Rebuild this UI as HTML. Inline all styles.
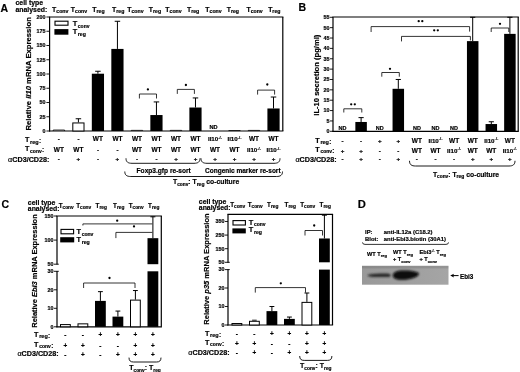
<!DOCTYPE html>
<html><head><meta charset="utf-8"><style>
html,body{margin:0;padding:0;background:#fff;}
svg text{stroke:#000;stroke-width:0.18px;}
svg{display:block;will-change:transform;font-family:"Liberation Sans",sans-serif;font-weight:bold;}
</style></head><body>
<svg width="520" height="372" viewBox="0 0 520 372">
<rect width="520" height="372" fill="#fff"/>
<text x="0.50" y="11.60" font-size="10.5" text-anchor="start" >A</text>
<text x="15.50" y="5.40" font-size="6.9" text-anchor="start" >cell type</text>
<text x="15.50" y="11.80" font-size="6.9" text-anchor="start" >analysed:</text>
<text x="60.25" y="11.90" font-size="6.9" text-anchor="middle">T<tspan font-size="5.2" dy="1.3">conv</tspan></text>
<text x="79.00" y="11.90" font-size="6.9" text-anchor="middle">T<tspan font-size="5.2" dy="1.3">conv</tspan></text>
<text x="98.50" y="11.90" font-size="6.9" text-anchor="middle">T<tspan font-size="5.2" dy="1.3">reg</tspan></text>
<text x="118.25" y="11.90" font-size="6.9" text-anchor="middle">T<tspan font-size="5.2" dy="1.3">reg</tspan></text>
<text x="135.40" y="11.90" font-size="6.9" text-anchor="middle">T<tspan font-size="5.2" dy="1.3">conv</tspan></text>
<text x="155.00" y="11.90" font-size="6.9" text-anchor="middle">T<tspan font-size="5.2" dy="1.3">reg</tspan></text>
<text x="173.50" y="11.90" font-size="6.9" text-anchor="middle">T<tspan font-size="5.2" dy="1.3">conv</tspan></text>
<text x="193.10" y="11.90" font-size="6.9" text-anchor="middle">T<tspan font-size="5.2" dy="1.3">reg</tspan></text>
<text x="213.50" y="11.90" font-size="6.9" text-anchor="middle">T<tspan font-size="5.2" dy="1.3">conv</tspan></text>
<text x="232.90" y="11.90" font-size="6.9" text-anchor="middle">T<tspan font-size="5.2" dy="1.3">reg</tspan></text>
<text x="254.60" y="11.90" font-size="6.9" text-anchor="middle">T<tspan font-size="5.2" dy="1.3">conv</tspan></text>
<text x="274.30" y="11.90" font-size="6.9" text-anchor="middle">T<tspan font-size="5.2" dy="1.3">reg</tspan></text>
<line x1="49.60" y1="17.00" x2="49.60" y2="131.50" stroke="#000" stroke-width="1.2"/>
<line x1="49.00" y1="17.00" x2="283.40" y2="17.00" stroke="#000" stroke-width="1.2"/>
<line x1="282.80" y1="17.00" x2="282.80" y2="131.00" stroke="#000" stroke-width="1.2"/>
<line x1="49.00" y1="131.00" x2="283.40" y2="131.00" stroke="#000" stroke-width="1.2"/>
<line x1="46.40" y1="131.00" x2="49.60" y2="131.00" stroke="#000" stroke-width="0.9"/>
<text x="45.60" y="132.90" font-size="5.4" text-anchor="end" >0</text>
<line x1="46.40" y1="116.75" x2="49.60" y2="116.75" stroke="#000" stroke-width="0.9"/>
<text x="45.60" y="118.65" font-size="5.4" text-anchor="end" >25</text>
<line x1="46.40" y1="102.50" x2="49.60" y2="102.50" stroke="#000" stroke-width="0.9"/>
<text x="45.60" y="104.40" font-size="5.4" text-anchor="end" >50</text>
<line x1="46.40" y1="88.25" x2="49.60" y2="88.25" stroke="#000" stroke-width="0.9"/>
<text x="45.60" y="90.15" font-size="5.4" text-anchor="end" >75</text>
<line x1="46.40" y1="74.00" x2="49.60" y2="74.00" stroke="#000" stroke-width="0.9"/>
<text x="45.60" y="75.90" font-size="5.4" text-anchor="end" >100</text>
<line x1="46.40" y1="59.75" x2="49.60" y2="59.75" stroke="#000" stroke-width="0.9"/>
<text x="45.60" y="61.65" font-size="5.4" text-anchor="end" >125</text>
<line x1="46.40" y1="45.50" x2="49.60" y2="45.50" stroke="#000" stroke-width="0.9"/>
<text x="45.60" y="47.40" font-size="5.4" text-anchor="end" >150</text>
<line x1="46.40" y1="31.25" x2="49.60" y2="31.25" stroke="#000" stroke-width="0.9"/>
<text x="45.60" y="33.15" font-size="5.4" text-anchor="end" >175</text>
<line x1="46.40" y1="17.00" x2="49.60" y2="17.00" stroke="#000" stroke-width="0.9"/>
<text x="45.60" y="18.90" font-size="5.4" text-anchor="end" >200</text>
<text x="0" y="0" font-size="7.7" text-anchor="middle" transform="translate(31.00,73.80) rotate(-90)">Relative <tspan font-style="italic">Il10</tspan> mRNA Expression</text>
<rect x="55.00" y="21.20" width="13.00" height="4.00" fill="#fff" stroke="#000" stroke-width="1.1"/>
<rect x="54.40" y="29.10" width="14.00" height="5.60" fill="#000" stroke="none" stroke-width="1.0"/>
<text x="72.80" y="26.30" font-size="7.4" text-anchor="start">T<tspan font-size="5.0" dy="1.6" dx="0.5">conv</tspan></text>
<text x="72.80" y="34.40" font-size="7.4" text-anchor="start">T<tspan font-size="5.2" dy="1.8" dx="0.5">reg</tspan></text>
<path d="M53.20,131.00 L53.20,130.02 L64.60,130.02 L64.60,131.00" stroke="#000" stroke-width="0.8" fill="none"/>
<line x1="78.41" y1="122.45" x2="78.41" y2="118.75" stroke="#000" stroke-width="1.0"/>
<line x1="75.66" y1="118.75" x2="81.16" y2="118.75" stroke="#000" stroke-width="1.0"/>
<rect x="72.81" y="122.95" width="11.20" height="8.05" fill="#fff" stroke="#000" stroke-width="1.0"/>
<line x1="97.92" y1="73.72" x2="97.92" y2="71.26" stroke="#000" stroke-width="1.0"/>
<line x1="95.17" y1="71.26" x2="100.67" y2="71.26" stroke="#000" stroke-width="1.0"/>
<rect x="91.82" y="73.72" width="12.20" height="57.28" fill="#000" stroke="none" stroke-width="0"/>
<line x1="117.43" y1="48.92" x2="117.43" y2="21.28" stroke="#000" stroke-width="1.0"/>
<line x1="114.69" y1="21.28" x2="120.18" y2="21.28" stroke="#000" stroke-width="1.0"/>
<rect x="111.33" y="48.92" width="12.20" height="82.08" fill="#000" stroke="none" stroke-width="0"/>
<path d="M131.24,131.00 L131.24,130.36 L142.64,130.36 L142.64,131.00" stroke="#000" stroke-width="0.8" fill="none"/>
<line x1="156.45" y1="115.04" x2="156.45" y2="101.93" stroke="#000" stroke-width="1.0"/>
<line x1="153.71" y1="101.93" x2="159.20" y2="101.93" stroke="#000" stroke-width="1.0"/>
<rect x="150.35" y="115.04" width="12.20" height="15.96" fill="#000" stroke="none" stroke-width="0"/>
<path d="M170.26,131.00 L170.26,130.36 L181.66,130.36 L181.66,131.00" stroke="#000" stroke-width="0.8" fill="none"/>
<line x1="195.47" y1="107.52" x2="195.47" y2="97.94" stroke="#000" stroke-width="1.0"/>
<line x1="192.73" y1="97.94" x2="198.22" y2="97.94" stroke="#000" stroke-width="1.0"/>
<rect x="189.37" y="107.52" width="12.20" height="23.48" fill="#000" stroke="none" stroke-width="0"/>
<path d="M228.79,131.00 L228.79,130.53 L240.19,130.53 L240.19,131.00" stroke="#000" stroke-width="0.8" fill="none"/>
<path d="M248.30,131.00 L248.30,130.41 L259.70,130.41 L259.70,131.00" stroke="#000" stroke-width="0.8" fill="none"/>
<line x1="273.51" y1="108.48" x2="273.51" y2="97.03" stroke="#000" stroke-width="1.0"/>
<line x1="270.76" y1="97.03" x2="276.25" y2="97.03" stroke="#000" stroke-width="1.0"/>
<rect x="267.41" y="108.48" width="12.20" height="22.52" fill="#000" stroke="none" stroke-width="0"/>
<text x="213.48" y="129.10" font-size="5.6" text-anchor="middle" >ND</text>
<path d="M139.40,98.50 L139.40,94.00 L156.50,94.00 L156.50,98.50" stroke="#000" stroke-width="0.8" fill="none"/>
<circle cx="147.90" cy="89.40" r="1.15" fill="#000"/>
<path d="M177.30,93.90 L177.30,89.40 L194.40,89.40 L194.40,93.90" stroke="#000" stroke-width="0.8" fill="none"/>
<circle cx="185.90" cy="85.00" r="1.15" fill="#000"/>
<path d="M257.60,94.60 L257.60,90.10 L274.60,90.10 L274.60,94.60" stroke="#000" stroke-width="0.8" fill="none"/>
<circle cx="267.30" cy="84.50" r="1.15" fill="#000"/>
<text x="24.90" y="142.00" font-size="7.2" text-anchor="start">T<tspan font-size="5.5" dy="1.6" dx="0.8">reg</tspan><tspan dy="-0.5" dx="0.3" font-size="6.48">:</tspan></text>
<text x="24.90" y="150.90" font-size="7.2" text-anchor="start">T<tspan font-size="5.0" dy="1.6" dx="0.8">conv</tspan><tspan dy="-0.5" dx="0.3" font-size="6.48">:</tspan></text>
<text x="8.10" y="162.10" font-size="7.2" text-anchor="start" ><tspan font-weight="normal">α</tspan>CD3/CD28:</text>
<text x="58.90" y="141.20" font-size="6.2" text-anchor="middle" >-</text>
<text x="78.41" y="141.20" font-size="6.2" text-anchor="middle" >-</text>
<text x="97.92" y="141.20" font-size="6.5" text-anchor="middle" >WT</text>
<text x="117.43" y="141.20" font-size="6.5" text-anchor="middle" >WT</text>
<text x="136.94" y="141.20" font-size="6.5" text-anchor="middle" >WT</text>
<text x="156.45" y="141.20" font-size="6.5" text-anchor="middle" >WT</text>
<text x="175.96" y="141.20" font-size="6.5" text-anchor="middle" >WT</text>
<text x="195.47" y="141.20" font-size="6.5" text-anchor="middle" >WT</text>
<text x="214.98" y="141.20" font-size="6.2" text-anchor="middle">Il10<tspan font-size="4.0" dy="-2.5">-/-</tspan></text>
<text x="234.49" y="141.20" font-size="6.2" text-anchor="middle">Il10<tspan font-size="4.0" dy="-2.5">-/-</tspan></text>
<text x="254.00" y="141.20" font-size="6.5" text-anchor="middle" >WT</text>
<text x="273.51" y="141.20" font-size="6.5" text-anchor="middle" >WT</text>
<text x="58.90" y="152.40" font-size="6.5" text-anchor="middle" >WT</text>
<text x="78.41" y="152.40" font-size="6.5" text-anchor="middle" >WT</text>
<text x="97.92" y="152.40" font-size="6.2" text-anchor="middle" >-</text>
<text x="117.43" y="152.40" font-size="6.2" text-anchor="middle" >-</text>
<text x="136.94" y="152.40" font-size="6.5" text-anchor="middle" >WT</text>
<text x="156.45" y="152.40" font-size="6.5" text-anchor="middle" >WT</text>
<text x="175.96" y="152.40" font-size="6.5" text-anchor="middle" >WT</text>
<text x="195.47" y="152.40" font-size="6.5" text-anchor="middle" >WT</text>
<text x="214.98" y="152.40" font-size="6.5" text-anchor="middle" >WT</text>
<text x="234.49" y="152.40" font-size="6.5" text-anchor="middle" >WT</text>
<text x="254.00" y="152.40" font-size="6.2" text-anchor="middle">Il10<tspan font-size="4.0" dy="-2.5">-/-</tspan></text>
<text x="273.51" y="152.40" font-size="6.2" text-anchor="middle">Il10<tspan font-size="4.0" dy="-2.5">-/-</tspan></text>
<text x="58.90" y="160.60" font-size="6.2" text-anchor="middle" >-</text>
<text x="78.41" y="160.60" font-size="6.2" text-anchor="middle" >+</text>
<text x="97.92" y="160.60" font-size="6.2" text-anchor="middle" >-</text>
<text x="117.43" y="160.60" font-size="6.2" text-anchor="middle" >+</text>
<text x="136.94" y="160.60" font-size="6.2" text-anchor="middle" >-</text>
<text x="156.45" y="160.60" font-size="6.2" text-anchor="middle" >-</text>
<text x="175.96" y="160.60" font-size="6.2" text-anchor="middle" >+</text>
<text x="195.47" y="160.60" font-size="6.2" text-anchor="middle" >+</text>
<text x="214.98" y="160.60" font-size="6.2" text-anchor="middle" >+</text>
<text x="234.49" y="160.60" font-size="6.2" text-anchor="middle" >+</text>
<text x="254.00" y="160.60" font-size="6.2" text-anchor="middle" >+</text>
<text x="273.51" y="160.60" font-size="6.2" text-anchor="middle" >+</text>
<path d="M126.00,158.30 C126.00,162.05 128.10,163.30 132.00,163.30 L194.00,163.30 C197.90,163.30 200.00,162.05 200.00,158.30" stroke="#000" stroke-width="0.9" fill="none"/>
<path d="M201.00,158.30 C201.00,162.05 203.10,163.30 207.00,163.30 L274.00,163.30 C277.90,163.30 280.00,162.05 280.00,158.30" stroke="#000" stroke-width="0.9" fill="none"/>
<text x="163.70" y="173.40" font-size="6.6" text-anchor="middle" >Foxp3.gfp re-sort</text>
<text x="242.80" y="173.40" font-size="6.5" text-anchor="middle" >Congenic marker re-sort</text>
<path d="M124.80,171.50 C124.80,175.25 126.90,176.50 130.80,176.50 L276.50,176.50 C280.40,176.50 282.50,175.25 282.50,171.50" stroke="#000" stroke-width="0.9" fill="none"/>
<text x="173.0" y="184.0" font-size="6.8">T<tspan font-size="4.8" dy="1.5">conv</tspan><tspan dy="-1.6">: T</tspan><tspan font-size="5.0" dy="1.6">reg</tspan><tspan dy="-1.6"> co-culture</tspan></text>
<text x="298.60" y="11.40" font-size="10.5" text-anchor="start" >B</text>
<line x1="333.00" y1="17.00" x2="333.00" y2="131.80" stroke="#000" stroke-width="1.2"/>
<line x1="332.40" y1="17.00" x2="518.80" y2="17.00" stroke="#000" stroke-width="1.2"/>
<line x1="518.20" y1="17.00" x2="518.20" y2="131.30" stroke="#000" stroke-width="1.2"/>
<line x1="332.40" y1="131.30" x2="518.80" y2="131.30" stroke="#000" stroke-width="1.2"/>
<line x1="330.00" y1="131.30" x2="333.00" y2="131.30" stroke="#000" stroke-width="0.9"/>
<text x="329.60" y="133.20" font-size="5.4" text-anchor="end" >0</text>
<line x1="330.00" y1="120.94" x2="333.00" y2="120.94" stroke="#000" stroke-width="0.9"/>
<text x="329.60" y="122.84" font-size="5.4" text-anchor="end" >5</text>
<line x1="330.00" y1="110.57" x2="333.00" y2="110.57" stroke="#000" stroke-width="0.9"/>
<text x="329.60" y="112.47" font-size="5.4" text-anchor="end" >10</text>
<line x1="330.00" y1="100.21" x2="333.00" y2="100.21" stroke="#000" stroke-width="0.9"/>
<text x="329.60" y="102.11" font-size="5.4" text-anchor="end" >15</text>
<line x1="330.00" y1="89.84" x2="333.00" y2="89.84" stroke="#000" stroke-width="0.9"/>
<text x="329.60" y="91.74" font-size="5.4" text-anchor="end" >20</text>
<line x1="330.00" y1="79.48" x2="333.00" y2="79.48" stroke="#000" stroke-width="0.9"/>
<text x="329.60" y="81.38" font-size="5.4" text-anchor="end" >25</text>
<line x1="330.00" y1="69.11" x2="333.00" y2="69.11" stroke="#000" stroke-width="0.9"/>
<text x="329.60" y="71.01" font-size="5.4" text-anchor="end" >30</text>
<line x1="330.00" y1="58.75" x2="333.00" y2="58.75" stroke="#000" stroke-width="0.9"/>
<text x="329.60" y="60.65" font-size="5.4" text-anchor="end" >35</text>
<line x1="330.00" y1="48.38" x2="333.00" y2="48.38" stroke="#000" stroke-width="0.9"/>
<text x="329.60" y="50.28" font-size="5.4" text-anchor="end" >40</text>
<line x1="330.00" y1="38.02" x2="333.00" y2="38.02" stroke="#000" stroke-width="0.9"/>
<text x="329.60" y="39.92" font-size="5.4" text-anchor="end" >45</text>
<line x1="330.00" y1="27.65" x2="333.00" y2="27.65" stroke="#000" stroke-width="0.9"/>
<text x="329.60" y="29.55" font-size="5.4" text-anchor="end" >50</text>
<line x1="330.00" y1="17.29" x2="333.00" y2="17.29" stroke="#000" stroke-width="0.9"/>
<text x="329.60" y="19.19" font-size="5.4" text-anchor="end" >55</text>
<text x="0" y="0" font-size="7.6" text-anchor="middle" transform="translate(319.40,75.20) rotate(-90)">IL-10 secretion (pg/ml)</text>
<text x="342.50" y="129.80" font-size="5.5" text-anchor="middle" >ND</text>
<line x1="361.10" y1="121.97" x2="361.10" y2="117.62" stroke="#000" stroke-width="1.0"/>
<line x1="358.51" y1="117.62" x2="363.69" y2="117.62" stroke="#000" stroke-width="1.0"/>
<rect x="355.35" y="121.97" width="11.50" height="9.33" fill="#000" stroke="none" stroke-width="0"/>
<text x="379.70" y="129.80" font-size="5.5" text-anchor="middle" >ND</text>
<line x1="398.30" y1="88.80" x2="398.30" y2="79.48" stroke="#000" stroke-width="1.0"/>
<line x1="395.71" y1="79.48" x2="400.89" y2="79.48" stroke="#000" stroke-width="1.0"/>
<rect x="392.55" y="88.80" width="11.50" height="42.50" fill="#000" stroke="none" stroke-width="0"/>
<text x="416.90" y="129.80" font-size="5.5" text-anchor="middle" >ND</text>
<text x="435.50" y="129.80" font-size="5.5" text-anchor="middle" >ND</text>
<text x="454.10" y="129.80" font-size="5.5" text-anchor="middle" >ND</text>
<line x1="472.70" y1="41.12" x2="472.70" y2="17.29" stroke="#000" stroke-width="1.0"/>
<line x1="470.11" y1="17.29" x2="475.29" y2="17.29" stroke="#000" stroke-width="1.0"/>
<rect x="466.95" y="41.12" width="11.50" height="90.18" fill="#000" stroke="none" stroke-width="0"/>
<line x1="491.30" y1="124.04" x2="491.30" y2="121.76" stroke="#000" stroke-width="1.0"/>
<line x1="488.71" y1="121.76" x2="493.89" y2="121.76" stroke="#000" stroke-width="1.0"/>
<rect x="485.55" y="124.04" width="11.50" height="7.26" fill="#000" stroke="none" stroke-width="0"/>
<line x1="509.90" y1="33.87" x2="509.90" y2="17.29" stroke="#000" stroke-width="1.0"/>
<line x1="507.31" y1="17.29" x2="512.49" y2="17.29" stroke="#000" stroke-width="1.0"/>
<rect x="504.15" y="33.87" width="11.50" height="97.43" fill="#000" stroke="none" stroke-width="0"/>
<path d="M343.80,112.50 L343.80,108.80 L361.80,108.80 L361.80,112.50" stroke="#000" stroke-width="0.8" fill="none"/>
<circle cx="351.20" cy="104.30" r="1.15" fill="#000"/>
<circle cx="354.80" cy="104.30" r="1.15" fill="#000"/>
<path d="M381.80,76.70 L381.80,72.50 L399.30,72.50 L399.30,76.70" stroke="#000" stroke-width="0.8" fill="none"/>
<circle cx="390.00" cy="68.80" r="1.15" fill="#000"/>
<path d="M371.10,32.00 L371.10,26.60 L469.60,26.60 L469.60,31.60" stroke="#000" stroke-width="0.8" fill="none"/>
<circle cx="418.70" cy="21.20" r="1.15" fill="#000"/>
<circle cx="422.30" cy="21.20" r="1.15" fill="#000"/>
<path d="M401.50,41.40 L401.50,36.40 L470.40,36.40 L470.40,40.40" stroke="#000" stroke-width="0.8" fill="none"/>
<circle cx="434.20" cy="30.30" r="1.15" fill="#000"/>
<circle cx="437.80" cy="30.30" r="1.15" fill="#000"/>
<path d="M491.20,32.00 L491.20,28.00 L508.80,28.00 L508.80,32.00" stroke="#000" stroke-width="0.8" fill="none"/>
<circle cx="500.00" cy="23.80" r="1.15" fill="#000"/>
<text x="315.20" y="142.60" font-size="7.2" text-anchor="start">T<tspan font-size="5.5" dy="1.6" dx="0.8">reg</tspan><tspan dy="-0.5" dx="0.3" font-size="6.48">:</tspan></text>
<text x="315.20" y="151.70" font-size="7.2" text-anchor="start">T<tspan font-size="5.0" dy="1.6" dx="0.8">conv</tspan><tspan dy="-0.5" dx="0.3" font-size="6.48">:</tspan></text>
<text x="295.40" y="162.40" font-size="7.2" text-anchor="start" ><tspan font-weight="normal">α</tspan>CD3/CD28:</text>
<text x="342.50" y="142.50" font-size="6.2" text-anchor="middle" >-</text>
<text x="361.10" y="142.50" font-size="6.2" text-anchor="middle" >-</text>
<text x="379.70" y="142.50" font-size="6.2" text-anchor="middle" >+</text>
<text x="398.30" y="142.50" font-size="6.2" text-anchor="middle" >+</text>
<text x="416.90" y="142.50" font-size="6.5" text-anchor="middle" >WT</text>
<text x="435.50" y="142.50" font-size="6.2" text-anchor="middle">Il10<tspan font-size="4.0" dy="-2.5">-/-</tspan></text>
<text x="454.10" y="142.50" font-size="6.5" text-anchor="middle" >WT</text>
<text x="472.70" y="142.50" font-size="6.5" text-anchor="middle" >WT</text>
<text x="491.30" y="142.50" font-size="6.2" text-anchor="middle">Il10<tspan font-size="4.0" dy="-2.5">-/-</tspan></text>
<text x="509.90" y="142.50" font-size="6.5" text-anchor="middle" >WT</text>
<text x="342.50" y="152.60" font-size="6.2" text-anchor="middle" >+</text>
<text x="361.10" y="152.60" font-size="6.2" text-anchor="middle" >+</text>
<text x="379.70" y="152.60" font-size="6.2" text-anchor="middle" >-</text>
<text x="398.30" y="152.60" font-size="6.2" text-anchor="middle" >-</text>
<text x="416.90" y="152.60" font-size="6.5" text-anchor="middle" >WT</text>
<text x="435.50" y="152.60" font-size="6.5" text-anchor="middle" >WT</text>
<text x="454.10" y="152.60" font-size="6.2" text-anchor="middle">Il10<tspan font-size="4.0" dy="-2.5">-/-</tspan></text>
<text x="472.70" y="152.60" font-size="6.5" text-anchor="middle" >WT</text>
<text x="491.30" y="152.60" font-size="6.5" text-anchor="middle" >WT</text>
<text x="509.90" y="152.60" font-size="6.2" text-anchor="middle">Il10<tspan font-size="4.0" dy="-2.5">-/-</tspan></text>
<text x="342.50" y="161.20" font-size="6.2" text-anchor="middle" >-</text>
<text x="361.10" y="161.20" font-size="6.2" text-anchor="middle" >+</text>
<text x="379.70" y="161.20" font-size="6.2" text-anchor="middle" >-</text>
<text x="398.30" y="161.20" font-size="6.2" text-anchor="middle" >+</text>
<text x="416.90" y="161.20" font-size="6.2" text-anchor="middle" >-</text>
<text x="435.50" y="161.20" font-size="6.2" text-anchor="middle" >-</text>
<text x="454.10" y="161.20" font-size="6.2" text-anchor="middle" >-</text>
<text x="472.70" y="161.20" font-size="6.2" text-anchor="middle" >+</text>
<text x="491.30" y="161.20" font-size="6.2" text-anchor="middle" >+</text>
<text x="509.90" y="161.20" font-size="6.2" text-anchor="middle" >+</text>
<path d="M409.50,160.80 C409.50,164.70 411.60,166.00 415.50,166.00 L509.00,166.00 C512.90,166.00 515.00,164.70 515.00,160.80" stroke="#000" stroke-width="0.9" fill="none"/>
<text x="466" y="176.6" font-size="6.8" text-anchor="middle">T<tspan font-size="4.8" dy="1.5">conv</tspan><tspan dy="-1.6">: T</tspan><tspan font-size="5.0" dy="1.6">reg</tspan><tspan dy="-1.6"> co-culture</tspan></text>
<text x="1.60" y="207.60" font-size="10.5" text-anchor="start" >C</text>
<text x="27.80" y="204.80" font-size="6.9" text-anchor="start" >cell type</text>
<text x="27.80" y="210.90" font-size="6.9" text-anchor="start" >analysed:</text>
<text x="66.20" y="207.50" font-size="6.3" text-anchor="middle">T<tspan font-size="4.8" dy="1.1">conv</tspan></text>
<text x="83.70" y="207.50" font-size="6.3" text-anchor="middle">T<tspan font-size="4.8" dy="1.1">conv</tspan></text>
<text x="101.20" y="207.50" font-size="6.3" text-anchor="middle">T<tspan font-size="4.8" dy="1.1">reg</tspan></text>
<text x="118.70" y="207.50" font-size="6.3" text-anchor="middle">T<tspan font-size="4.8" dy="1.1">reg</tspan></text>
<text x="136.20" y="207.50" font-size="6.3" text-anchor="middle">T<tspan font-size="4.8" dy="1.1">conv</tspan></text>
<text x="153.70" y="207.50" font-size="6.3" text-anchor="middle">T<tspan font-size="4.8" dy="1.1">reg</tspan></text>
<line x1="57.00" y1="216.00" x2="57.00" y2="264.60" stroke="#000" stroke-width="1.2"/>
<line x1="57.00" y1="270.90" x2="57.00" y2="327.30" stroke="#000" stroke-width="1.2"/>
<line x1="56.40" y1="216.00" x2="161.90" y2="216.00" stroke="#000" stroke-width="1.2"/>
<line x1="161.30" y1="216.00" x2="161.30" y2="326.80" stroke="#000" stroke-width="1.2"/>
<line x1="56.40" y1="326.80" x2="161.90" y2="326.80" stroke="#000" stroke-width="1.2"/>
<line x1="54.00" y1="264.20" x2="58.80" y2="264.20" stroke="#000" stroke-width="0.9"/>
<line x1="54.00" y1="271.30" x2="58.80" y2="271.30" stroke="#000" stroke-width="0.9"/>
<line x1="54.00" y1="326.80" x2="57.00" y2="326.80" stroke="#000" stroke-width="0.9"/>
<text x="53.60" y="328.70" font-size="5.4" text-anchor="end" >0</text>
<line x1="54.00" y1="308.30" x2="57.00" y2="308.30" stroke="#000" stroke-width="0.9"/>
<text x="53.60" y="310.20" font-size="5.4" text-anchor="end" >10</text>
<line x1="54.00" y1="289.80" x2="57.00" y2="289.80" stroke="#000" stroke-width="0.9"/>
<text x="53.60" y="291.70" font-size="5.4" text-anchor="end" >20</text>
<text x="53.60" y="273.20" font-size="5.4" text-anchor="end" >30</text>
<text x="53.60" y="266.10" font-size="5.4" text-anchor="end" >50</text>
<line x1="54.00" y1="240.10" x2="57.00" y2="240.10" stroke="#000" stroke-width="0.9"/>
<text x="53.60" y="242.00" font-size="5.4" text-anchor="end" >100</text>
<line x1="54.00" y1="216.00" x2="57.00" y2="216.00" stroke="#000" stroke-width="0.9"/>
<text x="53.60" y="217.90" font-size="5.4" text-anchor="end" >150</text>
<text x="0" y="0" font-size="7.48" text-anchor="middle" transform="translate(37.20,271.00) rotate(-90)">Relative <tspan font-style="italic">Ebi3</tspan> mRNA Expression</text>
<rect x="60.50" y="324.58" width="9.80" height="2.22" fill="#fff" stroke="#000" stroke-width="1.0"/>
<rect x="78.00" y="323.84" width="9.80" height="2.96" fill="#fff" stroke="#000" stroke-width="1.0"/>
<line x1="100.40" y1="300.90" x2="100.40" y2="291.65" stroke="#000" stroke-width="1.0"/>
<line x1="97.97" y1="291.65" x2="102.83" y2="291.65" stroke="#000" stroke-width="1.0"/>
<rect x="95.00" y="300.90" width="10.80" height="25.90" fill="#000" stroke="none" stroke-width="0"/>
<line x1="117.90" y1="316.62" x2="117.90" y2="311.07" stroke="#000" stroke-width="1.0"/>
<line x1="115.47" y1="311.07" x2="120.33" y2="311.07" stroke="#000" stroke-width="1.0"/>
<rect x="112.50" y="316.62" width="10.80" height="10.18" fill="#000" stroke="none" stroke-width="0"/>
<line x1="135.40" y1="299.61" x2="135.40" y2="290.54" stroke="#000" stroke-width="1.0"/>
<line x1="132.97" y1="290.54" x2="137.83" y2="290.54" stroke="#000" stroke-width="1.0"/>
<rect x="130.50" y="300.11" width="9.80" height="26.69" fill="#fff" stroke="#000" stroke-width="1.0"/>
<rect x="147.50" y="238.17" width="10.80" height="26.03" fill="#000" stroke="none" stroke-width="1.0"/>
<rect x="147.50" y="271.30" width="10.80" height="55.50" fill="#000" stroke="none" stroke-width="1.0"/>
<line x1="152.90" y1="238.17" x2="152.90" y2="216.60" stroke="#000" stroke-width="1.0"/>
<line x1="150.40" y1="216.80" x2="155.40" y2="216.80" stroke="#000" stroke-width="1.0"/>
<path d="M82.90,225.50 L82.90,223.90 L152.30,223.90 L152.30,223.90" stroke="#000" stroke-width="0.8" fill="none"/>
<circle cx="117.20" cy="220.70" r="1.15" fill="#000"/>
<path d="M115.90,238.10 L115.90,232.40 L152.30,232.40 L152.30,232.40" stroke="#000" stroke-width="0.8" fill="none"/>
<circle cx="134.00" cy="226.40" r="1.15" fill="#000"/>
<path d="M83.60,288.00 L83.60,283.00 L135.00,283.00 L135.00,288.00" stroke="#000" stroke-width="0.8" fill="none"/>
<circle cx="109.50" cy="278.00" r="1.15" fill="#000"/>
<text x="34.00" y="336.80" font-size="7.2" text-anchor="start">T<tspan font-size="5.5" dy="1.6" dx="0.8">reg</tspan><tspan dy="-0.5" dx="0.3" font-size="6.48">:</tspan></text>
<text x="34.00" y="346.50" font-size="7.2" text-anchor="start">T<tspan font-size="5.0" dy="1.6" dx="0.8">conv</tspan><tspan dy="-0.5" dx="0.3" font-size="6.48">:</tspan></text>
<text x="17.40" y="356.20" font-size="7.2" text-anchor="start" ><tspan font-weight="normal">α</tspan>CD3/CD28:</text>
<text x="65.40" y="337.10" font-size="6.4" text-anchor="middle" >-</text>
<text x="82.90" y="337.10" font-size="6.4" text-anchor="middle" >-</text>
<text x="100.40" y="337.10" font-size="6.4" text-anchor="middle" >+</text>
<text x="117.90" y="337.10" font-size="6.4" text-anchor="middle" >+</text>
<text x="135.40" y="337.10" font-size="6.4" text-anchor="middle" >+</text>
<text x="152.90" y="337.10" font-size="6.4" text-anchor="middle" >+</text>
<text x="65.40" y="347.50" font-size="6.4" text-anchor="middle" >+</text>
<text x="82.90" y="347.50" font-size="6.4" text-anchor="middle" >+</text>
<text x="100.40" y="347.50" font-size="6.4" text-anchor="middle" >-</text>
<text x="117.90" y="347.50" font-size="6.4" text-anchor="middle" >-</text>
<text x="135.40" y="347.50" font-size="6.4" text-anchor="middle" >+</text>
<text x="152.90" y="347.50" font-size="6.4" text-anchor="middle" >+</text>
<text x="65.40" y="356.50" font-size="6.4" text-anchor="middle" >-</text>
<text x="82.90" y="356.50" font-size="6.4" text-anchor="middle" >+</text>
<text x="100.40" y="356.50" font-size="6.4" text-anchor="middle" >-</text>
<text x="117.90" y="356.50" font-size="6.4" text-anchor="middle" >+</text>
<text x="135.40" y="356.50" font-size="6.4" text-anchor="middle" >+</text>
<text x="152.90" y="356.50" font-size="6.4" text-anchor="middle" >+</text>
<path d="M129.00,357.60 C129.00,360.90 130.57,362.00 133.50,362.00 L156.50,362.00 C159.43,362.00 161.00,360.90 161.00,357.60" stroke="#000" stroke-width="0.9" fill="none"/>
<text x="145.00" y="370.00" font-size="7.0" text-anchor="middle">T<tspan font-size="4.8" dy="1.6">conv</tspan><tspan dy="-1.6">: T</tspan><tspan font-size="4.8" dy="1.6">reg</tspan></text>
<rect x="61.00" y="229.40" width="12.60" height="4.40" fill="#fff" stroke="#000" stroke-width="1.1"/>
<rect x="60.20" y="237.20" width="14.00" height="5.20" fill="#000" stroke="none" stroke-width="1.0"/>
<text x="76.60" y="234.00" font-size="7.4" text-anchor="start">T<tspan font-size="5.0" dy="1.6" dx="0.6">conv</tspan></text>
<text x="76.60" y="242.00" font-size="7.4" text-anchor="start">T<tspan font-size="5.2" dy="1.8" dx="0.6">reg</tspan></text>
<text x="198.80" y="204.10" font-size="6.9" text-anchor="start" >cell type</text>
<text x="198.80" y="210.20" font-size="6.9" text-anchor="start" >analysed:</text>
<text x="237.70" y="206.80" font-size="6.3" text-anchor="middle">T<tspan font-size="4.8" dy="1.1">conv</tspan></text>
<text x="255.20" y="206.80" font-size="6.3" text-anchor="middle">T<tspan font-size="4.8" dy="1.1">conv</tspan></text>
<text x="272.70" y="206.80" font-size="6.3" text-anchor="middle">T<tspan font-size="4.8" dy="1.1">reg</tspan></text>
<text x="290.20" y="206.80" font-size="6.3" text-anchor="middle">T<tspan font-size="4.8" dy="1.1">reg</tspan></text>
<text x="307.70" y="206.80" font-size="6.3" text-anchor="middle">T<tspan font-size="4.8" dy="1.1">conv</tspan></text>
<text x="325.20" y="206.80" font-size="6.3" text-anchor="middle">T<tspan font-size="4.8" dy="1.1">reg</tspan></text>
<line x1="228.00" y1="214.40" x2="228.00" y2="262.70" stroke="#000" stroke-width="1.2"/>
<line x1="228.00" y1="269.20" x2="228.00" y2="325.50" stroke="#000" stroke-width="1.2"/>
<line x1="227.40" y1="214.40" x2="333.10" y2="214.40" stroke="#000" stroke-width="1.2"/>
<line x1="332.50" y1="214.40" x2="332.50" y2="325.00" stroke="#000" stroke-width="1.2"/>
<line x1="227.40" y1="325.00" x2="333.10" y2="325.00" stroke="#000" stroke-width="1.2"/>
<line x1="225.00" y1="262.30" x2="229.80" y2="262.30" stroke="#000" stroke-width="0.9"/>
<line x1="225.00" y1="269.60" x2="229.80" y2="269.60" stroke="#000" stroke-width="0.9"/>
<line x1="225.00" y1="325.00" x2="228.00" y2="325.00" stroke="#000" stroke-width="0.9"/>
<text x="224.60" y="326.90" font-size="5.4" text-anchor="end" >0</text>
<line x1="225.00" y1="306.50" x2="228.00" y2="306.50" stroke="#000" stroke-width="0.9"/>
<text x="224.60" y="308.40" font-size="5.4" text-anchor="end" >10</text>
<line x1="225.00" y1="288.00" x2="228.00" y2="288.00" stroke="#000" stroke-width="0.9"/>
<text x="224.60" y="289.90" font-size="5.4" text-anchor="end" >20</text>
<text x="224.60" y="271.40" font-size="5.4" text-anchor="end" >30</text>
<text x="224.60" y="264.20" font-size="5.4" text-anchor="end" >50</text>
<line x1="225.00" y1="248.69" x2="228.00" y2="248.69" stroke="#000" stroke-width="0.9"/>
<text x="224.60" y="250.59" font-size="5.4" text-anchor="end" >150</text>
<line x1="225.00" y1="235.08" x2="228.00" y2="235.08" stroke="#000" stroke-width="0.9"/>
<text x="224.60" y="236.98" font-size="5.4" text-anchor="end" >250</text>
<line x1="225.00" y1="221.47" x2="228.00" y2="221.47" stroke="#000" stroke-width="0.9"/>
<text x="224.60" y="223.37" font-size="5.4" text-anchor="end" >350</text>
<text x="0" y="0" font-size="7.52" text-anchor="middle" transform="translate(209.30,269.00) rotate(-90)">Relative <tspan font-style="italic">p35</tspan> mRNA Expression</text>
<rect x="232.00" y="323.52" width="9.80" height="1.48" fill="#fff" stroke="#000" stroke-width="1.0"/>
<rect x="249.50" y="321.30" width="9.80" height="3.70" fill="#fff" stroke="#000" stroke-width="1.0"/>
<line x1="252.10" y1="320.19" x2="256.70" y2="320.19" stroke="#000" stroke-width="0.9"/>
<line x1="271.90" y1="311.12" x2="271.90" y2="306.50" stroke="#000" stroke-width="1.0"/>
<line x1="269.47" y1="306.50" x2="274.33" y2="306.50" stroke="#000" stroke-width="1.0"/>
<rect x="266.50" y="311.12" width="10.80" height="13.88" fill="#000" stroke="none" stroke-width="0"/>
<line x1="289.40" y1="318.89" x2="289.40" y2="317.05" stroke="#000" stroke-width="1.0"/>
<line x1="286.97" y1="317.05" x2="291.83" y2="317.05" stroke="#000" stroke-width="1.0"/>
<rect x="284.00" y="318.89" width="10.80" height="6.11" fill="#000" stroke="none" stroke-width="0"/>
<line x1="306.90" y1="301.88" x2="306.90" y2="293.00" stroke="#000" stroke-width="1.0"/>
<line x1="304.47" y1="293.00" x2="309.33" y2="293.00" stroke="#000" stroke-width="1.0"/>
<rect x="302.00" y="302.38" width="9.80" height="22.62" fill="#fff" stroke="#000" stroke-width="1.0"/>
<rect x="319.00" y="238.48" width="10.80" height="23.82" fill="#000" stroke="none" stroke-width="1.0"/>
<rect x="319.00" y="269.60" width="10.80" height="55.40" fill="#000" stroke="none" stroke-width="1.0"/>
<line x1="324.40" y1="238.48" x2="324.40" y2="215.00" stroke="#000" stroke-width="1.0"/>
<line x1="321.90" y1="215.20" x2="326.90" y2="215.20" stroke="#000" stroke-width="1.0"/>
<path d="M255.30,292.60 L255.30,287.60 L305.50,287.60 L305.50,292.60" stroke="#000" stroke-width="0.8" fill="none"/>
<circle cx="280.80" cy="283.30" r="1.15" fill="#000"/>
<path d="M305.00,235.50 L305.00,230.50 L322.50,230.50 L322.50,235.50" stroke="#000" stroke-width="0.8" fill="none"/>
<circle cx="314.20" cy="225.50" r="1.15" fill="#000"/>
<text x="204.90" y="335.80" font-size="7.2" text-anchor="start">T<tspan font-size="5.5" dy="1.6" dx="0.8">reg</tspan><tspan dy="-0.5" dx="0.3" font-size="6.48">:</tspan></text>
<text x="204.90" y="344.50" font-size="7.2" text-anchor="start">T<tspan font-size="5.0" dy="1.6" dx="0.8">conv</tspan><tspan dy="-0.5" dx="0.3" font-size="6.48">:</tspan></text>
<text x="188.30" y="354.60" font-size="7.2" text-anchor="start" ><tspan font-weight="normal">α</tspan>CD3/CD28:</text>
<text x="236.90" y="336.10" font-size="6.4" text-anchor="middle" >-</text>
<text x="254.40" y="336.10" font-size="6.4" text-anchor="middle" >-</text>
<text x="271.90" y="336.10" font-size="6.4" text-anchor="middle" >+</text>
<text x="289.40" y="336.10" font-size="6.4" text-anchor="middle" >+</text>
<text x="306.90" y="336.10" font-size="6.4" text-anchor="middle" >+</text>
<text x="324.40" y="336.10" font-size="6.4" text-anchor="middle" >+</text>
<text x="236.90" y="345.50" font-size="6.4" text-anchor="middle" >+</text>
<text x="254.40" y="345.50" font-size="6.4" text-anchor="middle" >+</text>
<text x="271.90" y="345.50" font-size="6.4" text-anchor="middle" >-</text>
<text x="289.40" y="345.50" font-size="6.4" text-anchor="middle" >-</text>
<text x="306.90" y="345.50" font-size="6.4" text-anchor="middle" >+</text>
<text x="324.40" y="345.50" font-size="6.4" text-anchor="middle" >+</text>
<text x="236.90" y="354.90" font-size="6.4" text-anchor="middle" >-</text>
<text x="254.40" y="354.90" font-size="6.4" text-anchor="middle" >+</text>
<text x="271.90" y="354.90" font-size="6.4" text-anchor="middle" >-</text>
<text x="289.40" y="354.90" font-size="6.4" text-anchor="middle" >+</text>
<text x="306.90" y="354.90" font-size="6.4" text-anchor="middle" >+</text>
<text x="324.40" y="354.90" font-size="6.4" text-anchor="middle" >+</text>
<path d="M299.70,356.00 C299.70,359.30 301.27,360.40 304.20,360.40 L327.40,360.40 C330.32,360.40 331.90,359.30 331.90,356.00" stroke="#000" stroke-width="0.9" fill="none"/>
<text x="315.80" y="368.40" font-size="7.0" text-anchor="middle">T<tspan font-size="4.8" dy="1.6">conv</tspan><tspan dy="-1.6">: T</tspan><tspan font-size="4.8" dy="1.6">reg</tspan></text>
<rect x="233.00" y="220.60" width="12.40" height="4.40" fill="#fff" stroke="#000" stroke-width="1.1"/>
<rect x="232.40" y="228.40" width="13.40" height="5.00" fill="#000" stroke="none" stroke-width="1.0"/>
<text x="248.80" y="224.60" font-size="7.4" text-anchor="start">T<tspan font-size="5.0" dy="1.6" dx="0.6">conv</tspan></text>
<text x="248.80" y="232.00" font-size="7.4" text-anchor="start">T<tspan font-size="5.2" dy="1.8" dx="0.6">reg</tspan></text>
<text x="357.80" y="208.40" font-size="11.2" text-anchor="start" >D</text>
<text x="365.00" y="233.60" font-size="5.9" text-anchor="start" >IP:</text>
<text x="383.80" y="233.60" font-size="5.9" text-anchor="start" >anti-IL12a (C18.2)</text>
<text x="365.00" y="240.60" font-size="5.9" text-anchor="start" >Blot:</text>
<text x="383.80" y="240.60" font-size="5.9" text-anchor="start" >anti-Ebi3.biotin (30A1)</text>
<path d="M362.5,242.4 Q362.5,244.4 365,244.4 L446,244.4 Q448.5,244.4 448.5,242.4" stroke="#000" stroke-width="0.8" fill="none"/>
<text x="367" y="256.2" font-size="5.6">WT T<tspan font-size="4.0" dy="1.2">reg</tspan></text>
<text x="393" y="254.4" font-size="5.6">WT T<tspan font-size="4.0" dy="1.2">reg</tspan></text>
<text x="393" y="261.4" font-size="5.6">+ T<tspan font-size="4.0" dy="1.2">conv</tspan></text>
<text x="419.5" y="254.4" font-size="5.6">Ebi3<tspan font-size="3.6" dy="-2">-/-</tspan><tspan dy="2"> T</tspan><tspan font-size="4.0" dy="1.2">reg</tspan></text>
<text x="419.5" y="261.4" font-size="5.6">+ T<tspan font-size="4.0" dy="1.2">conv</tspan></text>
<defs>
<linearGradient id="bg" x1="0" x2="1" y1="0" y2="0"><stop offset="0" stop-color="#999"/><stop offset="1" stop-color="#a5a5a5"/></linearGradient>
<filter id="bl" x="-20%" y="-50%" width="140%" height="200%"><feGaussianBlur stdDeviation="0.9"/></filter>
</defs>
<rect x="362" y="265.8" width="86.5" height="18.9" fill="url(#bg)"/>
<rect x="362" y="265.8" width="86.5" height="2.6" fill="#000" fill-opacity="0.1"/>
<path d="M367.8,275.4 C367.8,274.5 371,274.1 376,273.8 C381,273.5 387,273.4 389.6,273.8 C391,274.4 391,276.4 389.6,276.9 C385,277.3 376,277.1 371,276.7 C369,276.5 367.8,276.1 367.8,275.4 Z" fill="#262626" filter="url(#bl)"/>
<path d="M392.8,275.5 C392.8,272 397,270.6 403,270.5 C409,270.4 415,271 418,272.6 C419.6,273.6 419,275.2 417,276.4 C413,278.6 407,279.8 401,279.8 C395.5,279.8 392.8,278 392.8,275.5 Z" fill="#080808" filter="url(#bl)"/>
<path d="M450.2,275.6 L454.0,273.7 L453.2,275.6 L454.0,277.5 Z" fill="#000"/>
<line x1="452.50" y1="275.60" x2="458.60" y2="275.60" stroke="#000" stroke-width="1.0"/>
<text x="460.00" y="278.70" font-size="6.3" text-anchor="start" >Ebi3</text>
</svg>
</body></html>
